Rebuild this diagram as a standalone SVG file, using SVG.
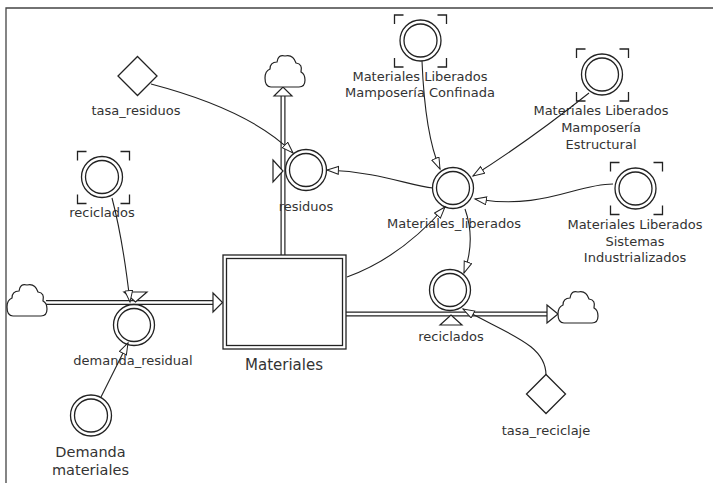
<svg xmlns="http://www.w3.org/2000/svg" width="713" height="483" viewBox="0 0 713 483">
<style>
.t{font-family:"DejaVu Sans","Liberation Sans",sans-serif;font-size:13px;fill:#333;text-anchor:middle}
.tb{font-size:14.5px}
.ln{fill:none;stroke:#222;stroke-width:1.2}
.c{fill:#fff;stroke:#222;stroke-width:1.3}
.br{fill:none;stroke:#222;stroke-width:1.3}
.po{fill:none;stroke:#222;stroke-width:5;stroke-linecap:butt}
.pi{fill:none;stroke:#fff;stroke-width:2.6;stroke-linecap:butt}
.tri{fill:#fff;stroke:#222;stroke-width:1.2;stroke-linejoin:miter}
.lk{fill:none;stroke:#222;stroke-width:1.1}
</style>
<defs>
<marker id="ah" markerWidth="14" markerHeight="11" refX="12" refY="4.5" orient="auto" markerUnits="userSpaceOnUse">
<path d="M0.6,0.6 L12,4.5 L0.6,8.4 z" fill="#fff" stroke="#222" stroke-width="1"/>
</marker>
<path id="cloud" d="M6,33 L34,33 Q40,33 40,26 Q40,20 36,18 Q38,10 31,9 Q28,0 20,2 Q13,0 12,8 Q5,8 5,15 Q0,17 0,24 Q0,33 6,33 Z" fill="#fff" stroke="#222" stroke-width="1.2"/>
<g id="circ"><circle r="20.5" class="c"/><circle r="16.5" class="c"/></g>
<path id="brk" d="M-26,-17 V-26 H-17 M17,-26 H26 V-17 M26,17 V26 H17 M-17,26 H-26 V17" class="br"/>
</defs>
<rect width="713" height="483" fill="#fff"/>
<path d="M6,483 V8 H713" fill="none" stroke="#444" stroke-width="1.3"/>

<g id="pipes">
<line x1="46" y1="302.5" x2="213" y2="302.5" class="po"/>
<line x1="46" y1="302.5" x2="213" y2="302.5" class="pi"/>
<line x1="283" y1="255" x2="283" y2="96" class="po"/>
<line x1="283" y1="255" x2="283" y2="96" class="pi"/>
<line x1="346" y1="314" x2="547" y2="314" class="po"/>
<line x1="346" y1="314" x2="547" y2="314" class="pi"/>
<polygon points="213,293 222.5,302.5 213,312" class="tri"/>
<polygon points="274,96 283,87 292,96" class="tri"/>
<polygon points="547,305 558,314 547,323" class="tri"/>
</g>

<g id="cloud_left"><use href="#cloud" transform="translate(7,283)"/></g>
<g id="cloud_top"><use href="#cloud" transform="translate(265,54)"/></g>
<g id="cloud_right"><use href="#cloud" transform="translate(558,290)"/></g>

<g id="Materiales">
<rect x="223" y="255" width="123" height="94" class="c"/>
<rect x="226.5" y="258.5" width="116" height="87" class="c"/>
<text x="284" y="370" class="t" style="font-size:15px">Materiales</text>
</g>

<g id="residuos">
<polygon points="273,160 283,171 273,182" class="tri"/>
<use href="#circ" transform="translate(306,170)"/>
<text x="306" y="211" class="t">residuos</text>
</g>

<g id="demanda_residual">
<polygon points="124,292 147,292 135.5,302" class="tri"/>
<use href="#circ" transform="translate(134,325)"/>
<text x="133" y="365" class="t">demanda_residual</text>
</g>

<g id="reciclados_flow">
<use href="#circ" transform="translate(450,290)"/>
<polygon points="440,325 451,315 462,325" class="tri"/>
<text x="451" y="341" class="t">reciclados</text>
</g>

<g id="Materiales_liberados">
<use href="#circ" transform="translate(453,188)"/>
<text x="454" y="228" class="t">Materiales_liberados</text>
</g>

<g id="MLConfinada">
<use href="#brk" transform="translate(420.5,41)"/>
<use href="#circ" transform="translate(420.5,40.5)"/>
<text x="420" y="81" class="t">Materiales Liberados</text>
<text x="420" y="97" class="t">Mamposería Confinada</text>
</g>

<g id="MLEstructural">
<use href="#brk" transform="translate(602.5,75)"/>
<use href="#circ" transform="translate(602,74.5)"/>
<text x="601" y="115" class="t">Materiales Liberados</text>
<text x="601" y="132" class="t">Mamposería</text>
<text x="601" y="149" class="t">Estructural</text>
</g>

<g id="MLSistemas">
<use href="#brk" transform="translate(636.5,188.5)"/>
<use href="#circ" transform="translate(635.5,188.5)"/>
<text x="635" y="229" class="t">Materiales Liberados</text>
<text x="635" y="246" class="t">Sistemas</text>
<text x="635" y="262" class="t">Industrializados</text>
</g>

<g id="reciclados_shadow">
<use href="#brk" transform="translate(103.5,177.5)"/>
<use href="#circ" transform="translate(102,177)"/>
<text x="102" y="217" class="t">reciclados</text>
</g>

<g id="Demanda_materiales">
<use href="#circ" transform="translate(91,415.5)"/>
<text x="90.5" y="457" class="t tb">Demanda</text>
<text x="90.5" y="474.5" class="t tb">materiales</text>
</g>

<g id="tasa_residuos">
<polygon points="137.5,56.5 157,76 137.5,95.5 118,76" class="c"/>
<text x="136" y="115" class="t">tasa_residuos</text>
</g>

<g id="tasa_reciclaje">
<polygon points="546,374.5 565.5,394 546,413.5 526.5,394" class="c"/>
<text x="546" y="435" class="t">tasa_reciclaje</text>
</g>

<g id="connectors">
<path d="M151,84 Q250,110 293,153" class="lk" marker-end="url(#ah)"/>
<path d="M433,188 C410,186 380,172 327,170" class="lk" marker-end="url(#ah)"/>
<path d="M347,277 Q400,258 445,207" class="lk" marker-end="url(#ah)"/>
<path d="M422,61 Q425,135 440,169" class="lk" marker-end="url(#ah)"/>
<path d="M589,93 Q530,140 473,176" class="lk" marker-end="url(#ah)"/>
<path d="M613,184 C575,184 545,210 475,199" class="lk" marker-end="url(#ah)"/>
<path d="M465,209 Q476,240 464,273" class="lk" marker-end="url(#ah)"/>
<path d="M546,375 C546,345 510,335 463,309" class="lk" marker-end="url(#ah)"/>
<path d="M112,198 Q123,240 130,302" class="lk" marker-end="url(#ah)"/>
<path d="M101,397 L128,343" class="lk" marker-end="url(#ah)"/>
</g>
</svg>
